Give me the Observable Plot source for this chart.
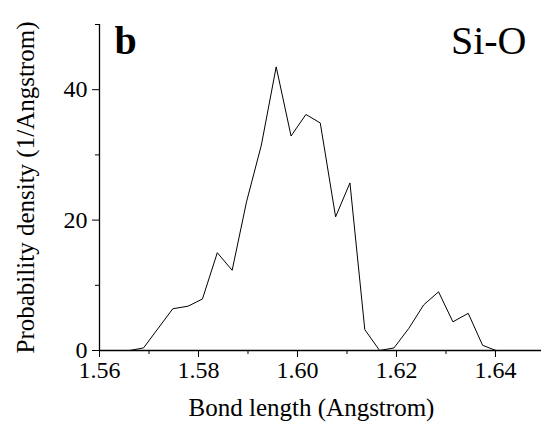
<!DOCTYPE html>
<html>
<head>
<meta charset="utf-8">
<script src="https://cdn.jsdelivr.net/npm/d3@7"></script>
<script src="https://cdn.jsdelivr.net/npm/@observablehq/plot@0.6"></script>
<style>
  html, body { margin: 0; padding: 0; background: #fff; }
  svg { display: block; }
  #chart svg, #chart svg * {
    font-family: 'Liberation Serif', 'Times New Roman', serif !important;
  }
  #chart svg g[aria-label*="axis"] text {
    font-size: 24px !important;
  }
  #note { position: absolute; left: -9999px; top: 0; font: 9px monospace; white-space: pre-wrap; width: 380px; }
</style>
</head>
<body>
<div id="chart"></div>
<div id="note"></div>
<script>
const bondLength = [1.5661, 1.5689, 1.5748, 1.5779, 1.5808, 1.5838, 1.5868, 1.5897, 1.5927, 1.5957,
  1.5987, 1.6017, 1.6046, 1.6077, 1.6106, 1.6136, 1.6166, 1.6195, 1.6225, 1.6255,
  1.6285, 1.6314, 1.6345, 1.6374, 1.6401];
const density = [0, 0.4, 6.4, 6.8, 7.9, 15.0, 12.3, 22.8, 31.5, 43.5,
  32.9, 36.2, 34.9, 20.5, 25.7, 3.2, 0, 0.4, 3.4, 7.0,
  9.0, 4.4, 5.7, 0.8, 0];
const xMajorTicks = [1.56, 1.58, 1.60, 1.62, 1.64];
const xMinorTicks = [1.57, 1.59, 1.61, 1.63];
const yMajorTicks = [0, 20, 40];
const yMinorTicks = [10, 30, 50];
const xTitle = "Bond length (Angstrom)";
const yTitle = "Probability density (1/Angstrom)";
const panelLabel = "b";
const pairLabel = "Si-O";

const serif = "'Liberation Serif', 'Times New Roman', serif";
const data = bondLength.map((x, i) => ({x, y: density[i]}));

const chart = Plot.plot({
  width: 541,
  height: 425,
  marginLeft: 99,
  marginRight: 0,
  marginTop: 24,
  marginBottom: 75,
  style: {fontFamily: serif, fontSize: "24px", color: "#000", background: "#fff"},
  x: {domain: [1.56, 1.6493]},
  y: {domain: [0, 50]},
  marks: [
    Plot.axisX({ticks: xMajorTicks, tickSize: 7, tickPadding: 3, tickFormat: d3.format(".2f"), label: null, fontFamily: serif, fontSize: 24}),
    Plot.axisX({ticks: xMinorTicks, tickSize: 4, tickFormat: () => "", label: null}),
    Plot.axisY({ticks: yMajorTicks, tickSize: 7, tickPadding: 5, tickFormat: d3.format("d"), label: null, fontFamily: serif, fontSize: 24}),
    Plot.axisY({ticks: yMinorTicks, tickSize: 4, tickFormat: () => "", label: null}),
    Plot.ruleY([0], {stroke: "#000", strokeWidth: 1.3}),
    Plot.ruleX([1.56], {stroke: "#000", strokeWidth: 1.3}),
    Plot.line(data, {x: "x", y: "y", stroke: "#000", strokeWidth: 1}),
    Plot.text([panelLabel], {frameAnchor: "top-left", text: d => d, dx: 15, dy: 1, lineAnchor: "top", textAnchor: "start", fontSize: 40, fontWeight: "bold", fontFamily: serif}),
    Plot.text([pairLabel], {frameAnchor: "top-right", text: d => d, dx: -15, dy: 1, lineAnchor: "top", textAnchor: "end", fontSize: 40, fontFamily: serif}),
    Plot.text([xTitle], {frameAnchor: "bottom", text: d => d, dx: -9, dy: 48, lineAnchor: "top", fontSize: 25, fontFamily: serif}),
    Plot.text([yTitle], {frameAnchor: "left", text: d => d, dx: -74, rotate: -90, lineAnchor: "middle", textAnchor: "middle", fontSize: 25, fontFamily: serif})
  ]
});
document.getElementById("chart").appendChild(chart);
const gs = Array.from(chart.querySelectorAll("g")).map(g => (g.getAttribute("aria-label") || "-")).join("\n");
const t = chart.querySelector("text");
document.getElementById("note").textContent = gs + "\n" + (t ? getComputedStyle(t).fontFamily + " " + getComputedStyle(t).fontSize : "");
</script>
</body>
</html>
